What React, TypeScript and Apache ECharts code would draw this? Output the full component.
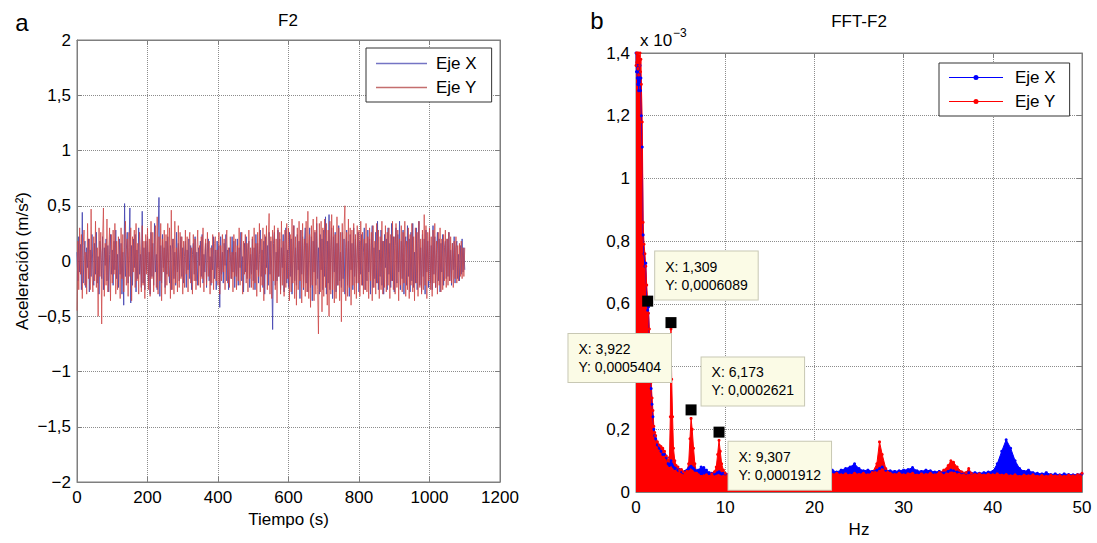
import React, { useEffect, useRef } from 'react';
import * as echarts from 'echarts';

// ---------- Left panel (a): acceleration time series, one sample every 2.5 s ----------
const TIME_STEP_S = 2.5;
const ACC_X = [
  0.08, -0.18, 0.22, -0.10, 0.15, -0.26, 0.44, -0.20, 0.05, 0.18, -0.24, 0.12, -0.06, 0.20, -0.28, 0.10, -0.14, 0.24, -0.08, -0.22,
  0.16, -0.12, 0.26, -0.20, 0.04, -0.30, 0.18, 0.08, -0.16, 0.22, -0.26, 0.12, -0.04, 0.20, -0.18, 0.14, -0.28, 0.06, 0.24, -0.12,
  0.10, -0.22, 0.18, -0.08, 0.28, -0.16, 0.06, -0.24, 0.20, -0.12, 0.16, -0.30, 0.08, -0.40, 0.52, -0.14, 0.10, 0.26, -0.20, 0.12,
  0.48, -0.38, 0.14, -0.22, 0.20, -0.06, 0.24, -0.28, 0.10, -0.16, 0.30, -0.12, 0.06, -0.24, 0.45, -0.20, 0.12, -0.26, 0.18, -0.08,
  0.22, -0.18, 0.08, -0.30, 0.26, -0.14, 0.16, -0.22, 0.34, -0.10, 0.06, -0.26, 0.20, 0.575, -0.32, 0.14, -0.20, 0.24, -0.06, 0.12,
  -0.24, 0.18, -0.12, 0.22, -0.04, -0.20, 0.14, -0.26, 0.10, 0.20, -0.16, 0.08, -0.22, 0.26, -0.10, 0.16, -0.18, 0.06, 0.22, -0.14,
  0.12, -0.20, 0.04, 0.18, -0.24, 0.10, -0.08, 0.20, -0.16, 0.14, -0.26, 0.06, 0.16, -0.12, 0.22, -0.18, 0.08, -0.22, 0.12, -0.04,
  0.18, -0.14, 0.24, -0.20, 0.06, -0.10, 0.16, -0.24, 0.12, 0.20, -0.18, 0.04, -0.22, 0.14, -0.08, 0.22, -0.16, 0.10, -0.26, 0.18,
  -0.06, 0.14, -0.42, 0.22, -0.12, 0.08, -0.20, 0.16, -0.04, 0.24, -0.18, 0.10, -0.26, 0.12, 0.06, -0.16, 0.22, -0.10, 0.18, -0.24,
  0.08, -0.14, 0.20, -0.22, 0.12, -0.06, 0.26, -0.18, 0.04, -0.28, 0.16, -0.10, 0.22, -0.16, 0.10, 0.18, -0.24, 0.06, -0.12, 0.20,
  -0.18, 0.12, -0.26, 0.24, -0.08, 0.16, -0.20, 0.06, 0.28, -0.14, 0.10, -0.24, 0.18, -0.30, 0.22, -0.06, 0.14, -0.22, 0.26, -0.12,
  0.18, -0.10, -0.62, 0.16, 0.26, -0.22, 0.08, -0.18, 0.28, -0.14, 0.20, -0.26, 0.12, -0.06, 0.24, -0.28, 0.16, 0.30, -0.20, 0.10,
  -0.24, 0.26, -0.14, 0.20, -0.30, 0.08, 0.32, -0.18, 0.12, -0.22, 0.24, -0.08, 0.18, -0.34, 0.28, -0.12, 0.22, -0.26, 0.14, 0.30,
  -0.20, 0.16, -0.28, 0.10, 0.30, -0.24, 0.22, -0.36, 0.18, -0.10, 0.26, -0.22, 0.34, -0.16, 0.12, -0.30, 0.24, -0.08, 0.20, -0.26,
  0.28, -0.14, 0.40, -0.30, 0.18, -0.20, 0.42, -0.26, 0.12, 0.30, -0.34, 0.22, -0.10, 0.26, -0.28, 0.16, -0.22, 0.32, -0.18, 0.08,
  -0.24, 0.26, -0.16, 0.20, -0.30, 0.12, 0.28, -0.22, 0.18, -0.32, 0.24, -0.08, 0.16, -0.26, 0.30, -0.14, 0.20, -0.20, 0.10, 0.26,
  -0.28, 0.18, -0.12, 0.24, -0.22, 0.08, 0.30, -0.26, 0.16, -0.18, 0.28, -0.10, 0.20, -0.30, 0.14, 0.32, -0.24, 0.12, -0.16, 0.26,
  -0.20, 0.36, -0.26, 0.10, -0.14, 0.28, -0.22, 0.18, -0.30, 0.24, -0.06, 0.20, -0.26, 0.30, -0.12, 0.16, -0.24, 0.34, -0.18, 0.22,
  -0.28, 0.14, 0.30, -0.20, 0.24, -0.10, 0.36, -0.26, 0.18, -0.16, 0.28, -0.30, 0.12, 0.22, -0.22, 0.32, -0.14, 0.20, -0.28, 0.26,
  -0.18, 0.34, -0.24, 0.08, -0.20, 0.30, -0.26, 0.16, 0.36, -0.22, 0.12, -0.28, 0.24, -0.14, 0.20, -0.30, 0.28, -0.10, 0.18, -0.24,
  0.30, -0.20, 0.14, -0.26, 0.32, -0.12, 0.22, -0.24, 0.08, 0.26, -0.18, 0.20, -0.28, 0.16, -0.10, 0.24, -0.22, 0.12, 0.18, -0.16,
  0.20, -0.14, 0.26, -0.18, 0.10, -0.22, 0.16, -0.08, 0.22, -0.20, 0.12, 0.18, -0.16, 0.06, -0.18, 0.14, -0.12, 0.20, -0.10, 0.12,
  -0.08,
];
const ACC_Y = [
  -0.45, 0.18, -0.26, 0.30, -0.12, 0.24, -0.34, 0.14, 0.28, -0.22, 0.08, -0.30, 0.34, -0.16, 0.20, -0.26, 0.47, -0.10, -0.28, 0.22,
  -0.18, 0.36, -0.24, 0.12, -0.50, 0.30, -0.14, 0.26, -0.57, 0.20, 0.48, -0.32, 0.16, -0.22, 0.38, -0.28, 0.10, 0.30, -0.36, 0.24,
  -0.20, 0.28, -0.12, 0.34, -0.30, 0.18, -0.26, 0.22, 0.06, -0.34, 0.30, -0.16, 0.24, -0.28, 0.12, 0.36, -0.22, 0.20, -0.32, 0.26,
  -0.14, 0.30, -0.36, 0.22, -0.10, 0.28, -0.24, 0.34, -0.18, 0.16, -0.30, 0.26, 0.10, -0.28, 0.32, -0.22, 0.18, -0.34, 0.24, -0.12,
  0.30, -0.26, 0.20, -0.32, 0.36, -0.16, 0.26, -0.28, 0.14, 0.32, -0.24, 0.40, -0.30, 0.22, -0.18, 0.34, -0.36, 0.20, -0.10, 0.28,
  -0.30, 0.24, -0.22, 0.34, -0.14, 0.30, -0.34, 0.46, -0.26, 0.20, -0.30, 0.36, -0.20, 0.12, -0.28, 0.32, -0.24, 0.26, -0.16, 0.22,
  -0.30, 0.18, -0.24, 0.28, -0.12, 0.22, -0.28, 0.16, 0.26, -0.20, 0.12, -0.30, 0.24, -0.18, 0.20, -0.26, 0.08, 0.28, -0.22, 0.14,
  -0.24, 0.22, -0.16, 0.30, -0.28, 0.10, 0.20, -0.22, 0.26, -0.14, 0.18, -0.30, 0.12, -0.20, 0.24, -0.26, 0.16, 0.22, -0.18, 0.10,
  -0.22, 0.26, -0.30, 0.14, -0.18, 0.24, -0.10, 0.20, -0.26, 0.16, 0.28, -0.20, 0.12, -0.24, 0.22, -0.16, 0.08, -0.28, 0.24, -0.14,
  0.20, -0.26, 0.14, -0.18, 0.30, -0.22, 0.10, 0.26, -0.30, 0.18, -0.12, 0.24, -0.20, 0.16, -0.28, 0.28, -0.16, 0.12, -0.24, 0.22,
  -0.26, 0.30, -0.20, 0.16, -0.32, 0.26, -0.14, 0.34, -0.28, 0.20, -0.22, 0.30, -0.36, 0.24, -0.12, 0.32, -0.26, 0.18, 0.43, -0.30,
  0.22, -0.34, 0.28, -0.18, 0.32, -0.26, 0.20, -0.38, 0.30, -0.14, 0.26, -0.30, 0.36, -0.22, 0.18, -0.32, 0.28, -0.24, 0.34, -0.16,
  0.30, -0.36, 0.24, -0.28, 0.38, -0.20, 0.32, -0.34, 0.22, -0.40, 0.30, -0.26, 0.36, -0.18, 0.28, -0.38, 0.34, -0.24, 0.20, -0.32,
  0.36, -0.28, 0.45, -0.34, 0.24, -0.42, 0.32, -0.22, 0.38, -0.36, 0.28, -0.30, 0.40, -0.26, -0.66, 0.34, -0.28, 0.36, -0.46, 0.30,
  -0.32, 0.38, -0.24, 0.34, -0.40, 0.28, -0.50, 0.36, -0.30, 0.42, -0.26, 0.32, -0.38, 0.24, -0.34, 0.40, -0.22, 0.30, -0.36, 0.26,
  -0.55, 0.34, -0.28, 0.30, 0.50, -0.36, 0.26, -0.32, 0.38, -0.24, 0.30, -0.40, 0.28, -0.22, 0.34, -0.30, 0.24, -0.34, 0.32, -0.20,
  0.28, -0.32, 0.36, -0.22, 0.26, -0.30, 0.20, -0.26, 0.34, -0.28, 0.22, -0.34, 0.30, -0.18, 0.26, -0.36, 0.32, -0.24, 0.18, -0.30,
  0.34, -0.20, 0.28, -0.34, 0.22, -0.26, 0.36, -0.30, 0.18, -0.24, 0.32, -0.28, 0.26, -0.22, 0.30, -0.34, 0.24, -0.18, 0.36, -0.26,
  0.22, -0.30, 0.34, -0.24, 0.28, -0.36, 0.20, -0.22, 0.32, -0.28, 0.26, -0.20, 0.36, -0.32, 0.18, -0.26, 0.30, -0.34, 0.24, -0.22,
  0.34, -0.28, 0.22, -0.36, 0.30, -0.20, 0.26, -0.32, 0.36, -0.24, 0.20, -0.30, 0.28, -0.26, 0.42, -0.22, 0.32, -0.34, 0.26, -0.18,
  0.30, -0.26, 0.22, -0.32, 0.28, -0.20, 0.34, -0.24, 0.18, -0.30, 0.26, -0.22, 0.30, -0.28, 0.20, -0.26, 0.24, -0.18, 0.28, -0.24,
  0.20, -0.22, 0.26, -0.18, 0.22, -0.20, 0.16, -0.24, 0.18, -0.16, 0.22, -0.20, 0.14, -0.18, 0.16, -0.14, 0.18, -0.16, 0.12, -0.14,
  0.12,
];

// ---------- Right panel (b): FFT amplitude (units of 1e-3) ----------
const FREQ_HZ = [
  0, 0.05, 0.1, 0.15, 0.2, 0.25, 0.3, 0.35, 0.4, 0.45,
  0.5, 0.55, 0.6, 0.7, 0.8, 0.9, 1.0, 1.1, 1.2, 1.309,
  1.4, 1.5, 1.6, 1.7, 1.8, 1.9, 2.0, 2.1, 2.2, 2.4,
  2.6, 2.8, 3.0, 3.2, 3.4, 3.6, 3.75, 3.85, 3.922, 4.0,
  4.1, 4.2, 4.35, 4.5, 4.7, 4.9, 5.1, 5.3, 5.5, 5.7,
  5.9, 6.05, 6.173, 6.3, 6.45, 6.6, 6.8, 7.0, 7.3, 7.6,
  7.9, 8.2, 8.5, 8.8, 9.0, 9.15, 9.307, 9.45, 9.6, 9.8,
  10, 10.5, 11, 11.5, 12, 12.5, 13, 13.5, 14, 14.5,
  15, 15.5, 16, 16.5, 17, 17.5, 18, 18.5, 19, 19.5,
  20, 20.5, 21, 21.5, 22, 22.5, 23, 23.5, 24, 24.5,
  25, 25.5, 26, 26.5, 27, 27.3, 27.6, 28, 28.5, 29,
  29.5, 30, 30.5, 31, 31.5, 32, 32.5, 33, 33.5, 34,
  34.5, 35, 35.3, 35.6, 36, 36.5, 37, 37.3, 37.6, 38,
  38.5, 39, 39.5, 40, 40.5, 41, 41.5, 42, 42.5, 43,
  43.5, 44, 44.5, 45, 45.5, 46, 46.5, 47, 47.5, 48,
  48.5, 49, 49.5, 50,
];
const FFT_X = [
  1.40, 1.34, 1.36, 1.32, 1.30, 1.36, 1.28, 1.34, 1.30, 1.36,
  1.28, 1.32, 1.20, 1.10, 0.82, 0.76, 0.72, 0.73, 0.62, 0.58,
  0.59, 0.48, 0.40, 0.33, 0.28, 0.24, 0.20, 0.18, 0.17, 0.15,
  0.14, 0.13, 0.12, 0.12, 0.11, 0.09, 0.085, 0.09, 0.10, 0.09,
  0.085, 0.08, 0.075, 0.08, 0.07, 0.072, 0.065, 0.062, 0.066, 0.07,
  0.075, 0.08, 0.082, 0.078, 0.075, 0.07, 0.068, 0.07, 0.08, 0.078,
  0.07, 0.062, 0.06, 0.058, 0.06, 0.062, 0.065, 0.06, 0.058, 0.06,
  0.058, 0.06, 0.056, 0.06, 0.058, 0.062, 0.056, 0.06, 0.058, 0.06,
  0.058, 0.062, 0.06, 0.058, 0.062, 0.06, 0.064, 0.062, 0.066, 0.064,
  0.07, 0.068, 0.072, 0.066, 0.07, 0.064, 0.07, 0.075, 0.08, 0.09,
  0.075, 0.068, 0.07, 0.066, 0.07, 0.075, 0.08, 0.07, 0.068, 0.066,
  0.068, 0.07, 0.072, 0.078, 0.068, 0.066, 0.07, 0.068, 0.064, 0.066,
  0.062, 0.066, 0.07, 0.068, 0.064, 0.062, 0.06, 0.062, 0.06, 0.062,
  0.06, 0.062, 0.064, 0.066, 0.09, 0.13, 0.167, 0.14, 0.10, 0.075,
  0.066, 0.07, 0.062, 0.06, 0.058, 0.062, 0.056, 0.058, 0.055, 0.058,
  0.056, 0.055, 0.056, 0.058,
];
const FFT_Y = [
  1.36, 1.40, 1.37, 1.40, 1.35, 1.40, 1.33, 1.39, 1.36, 1.40,
  1.34, 1.38, 1.30, 1.18, 0.86, 0.79, 0.76, 0.72, 0.66, 0.6089,
  0.57, 0.52, 0.42, 0.35, 0.30, 0.26, 0.21, 0.19, 0.18, 0.16,
  0.15, 0.145, 0.14, 0.13, 0.115, 0.10, 0.11, 0.24, 0.52, 0.36,
  0.24, 0.14, 0.10, 0.085, 0.08, 0.07, 0.072, 0.065, 0.06, 0.066,
  0.09, 0.17, 0.235, 0.20, 0.14, 0.09, 0.06, 0.055, 0.05, 0.052,
  0.055, 0.05, 0.058, 0.065, 0.08, 0.12, 0.165, 0.13, 0.09, 0.07,
  0.06, 0.055, 0.062, 0.05, 0.056, 0.06, 0.052, 0.058, 0.05, 0.055,
  0.06, 0.052, 0.057, 0.05, 0.055, 0.06, 0.053, 0.058, 0.05, 0.056,
  0.06, 0.054, 0.058, 0.052, 0.056, 0.06, 0.055, 0.058, 0.054, 0.06,
  0.056, 0.06, 0.055, 0.062, 0.09, 0.16, 0.12, 0.075, 0.06, 0.056,
  0.06, 0.055, 0.058, 0.06, 0.054, 0.058, 0.056, 0.06, 0.055, 0.062,
  0.07, 0.085, 0.10, 0.095, 0.08, 0.065, 0.062, 0.075, 0.06, 0.056,
  0.058, 0.054, 0.057, 0.055, 0.058, 0.054, 0.056, 0.052, 0.055, 0.05,
  0.054, 0.052, 0.055, 0.05, 0.053, 0.05, 0.054, 0.051, 0.053, 0.05,
  0.054, 0.052, 0.055, 0.06,
];

// Data tips (frequency in Hz, amplitude in units of 1e-3)
const TIP_X = [1.309, 3.922, 6.173, 9.307];
const TIP_Y = [0.6089, 0.5404, 0.2621, 0.1912];

const SERIES_LABELS: Record<string, string> = {
  'acc-x': 'Eje X',
  'acc-y': 'Eje Y',
  'fft-x': 'Eje X',
  'fft-y': 'Eje Y',
};

const FONT = '"Liberation Sans", Arial, Helvetica, sans-serif';
const FRAME = '#7f7f7f';
const GRID_LINE = { show: true, lineStyle: { type: 'dotted' as const, color: '#8c8c8c', width: 1 } };
// line with a dot in the middle (legend icon of the FFT panel), 54 x 5 box
const LINE_DOT_ICON = 'path://M0,2 H54 V3 H0 Z M27,0 A2.5,2.5 0 1 1 27,5 A2.5,2.5 0 1 1 27,0 Z';

const comma = (s: string) => s.replace('.', ',').replace('-', '\u2212');

function buildOption() {
  const accX = ACC_X.map((v, i) => [i * TIME_STEP_S, v]);
  const accY = ACC_Y.map((v, i) => [i * TIME_STEP_S, v]);
  const fftX = FREQ_HZ.map((f, i) => [f, FFT_X[i]]);
  const fftY = FREQ_HZ.map((f, i) => [f, FFT_Y[i]]);

  // data-tip box placement relative to each marker
  const tipLayout: any[] = [
    { position: [13, -44], align: 'left', verticalAlign: 'top' },
    { position: [-97, 17], align: 'left', verticalAlign: 'top' },
    { position: [16, 1], align: 'left', verticalAlign: 'bottom' },
    { position: [15, 15], align: 'left', verticalAlign: 'top' },
  ];
  const tips = TIP_X.map((x, i) => ({ value: [x, TIP_Y[i]], label: tipLayout[i] }));

  const mainX = (grid: number, min: number, max: number, interval: number, name: string, gap: number) => ({
    type: 'value', gridIndex: grid, min, max, interval, position: 'bottom',
    axisLine: { show: true, onZero: false, lineStyle: { color: FRAME } },
    axisTick: { show: true, inside: true, length: 5, lineStyle: { color: FRAME } },
    axisLabel: { color: '#000', fontSize: 17, margin: 7, fontFamily: FONT, formatter: (v: number) => String(v) },
    splitLine: GRID_LINE,
    name, nameLocation: 'middle', nameGap: gap,
    nameTextStyle: { color: '#000', fontSize: 17, fontFamily: FONT },
  });
  const mirrorX = (grid: number, min: number, max: number, interval: number) => ({
    type: 'value', gridIndex: grid, min, max, interval, position: 'top',
    axisLine: { show: true, onZero: false, lineStyle: { color: FRAME } },
    axisTick: { show: true, inside: true, length: 5, lineStyle: { color: FRAME } },
    axisLabel: { show: false }, splitLine: { show: false },
  });
  const mainY = (grid: number, min: number, max: number, interval: number, fmt: (v: number) => string, extra: any = {}) => ({
    type: 'value', gridIndex: grid, min, max, interval, position: 'left',
    axisLine: { show: true, onZero: false, lineStyle: { color: FRAME } },
    axisTick: { show: true, inside: true, length: 5, lineStyle: { color: FRAME } },
    axisLabel: { color: '#000', fontSize: 17, margin: 6, fontFamily: FONT, formatter: fmt },
    splitLine: GRID_LINE,
    ...extra,
  });
  const mirrorY = (grid: number, min: number, max: number, interval: number) => ({
    type: 'value', gridIndex: grid, min, max, interval, position: 'right',
    axisLine: { show: true, onZero: false, lineStyle: { color: FRAME } },
    axisTick: { show: true, inside: true, length: 5, lineStyle: { color: FRAME } },
    axisLabel: { show: false }, splitLine: { show: false },
  });

  // the 0,4 tick label is covered by a data tip in the original figure
  const fftYLabel = (v: number) => {
    const r = +v.toFixed(1);
    if (r === 0.4) return '';
    return r === 0 ? '0' : comma(String(r));
  };

  return {
    animation: false,
    backgroundColor: '#fff',
    textStyle: { fontFamily: FONT },
    grid: [
      { left: 77, top: 40, width: 423, height: 442, show: true, borderColor: FRAME, borderWidth: 1, backgroundColor: '#fff' },
      { left: 636, top: 53, width: 446, height: 444, show: true, borderColor: FRAME, borderWidth: 1, backgroundColor: '#fff' },
    ],
    xAxis: [
      mainX(0, 0, 1200, 200, 'Tiempo (s)', 29),
      mirrorX(0, 0, 1200, 200),
      mainX(1, 0, 50, 10, 'Hz', 26),
      mirrorX(1, 0, 50, 10),
    ],
    yAxis: [
      mainY(0, -2, 2, 0.5, (v: number) => (v === 0 ? '0' : comma(String(v))), {
        name: 'Aceleración (m/s²)', nameLocation: 'middle', nameGap: 46,
        nameTextStyle: { color: '#000', fontSize: 17, fontFamily: FONT },
      }),
      mirrorY(0, -2, 2, 0.5),
      mainY(1, 0, 1.4, 0.2, fftYLabel, {}),
      mirrorY(1, 0, 1.4, 0.2),
    ],
    legend: [
      {
        data: ['acc-x', 'acc-y'], formatter: (n: string) => SERIES_LABELS[n],
        icon: 'rect',
        orient: 'vertical', left: 366, top: 48,
        itemWidth: 51, itemHeight: 1.5, itemGap: 7,
        padding: [7, 15, 6, 10],
        borderColor: '#333', borderWidth: 1, backgroundColor: '#fff',
        textStyle: { color: '#000', fontSize: 17, fontFamily: FONT, padding: [0, 0, 0, 4] },
      },
      {
        data: ['fft-x', 'fft-y'], formatter: (n: string) => SERIES_LABELS[n],
        icon: LINE_DOT_ICON,
        orient: 'vertical', left: 939, top: 63,
        itemWidth: 54, itemHeight: 5, itemGap: 7,
        padding: [6, 14, 6, 10],
        borderColor: '#333', borderWidth: 1, backgroundColor: '#fff',
        textStyle: { color: '#000', fontSize: 17, fontFamily: FONT, padding: [0, 0, 0, 7] },
      },
    ],
    graphic: [
      { type: 'text', x: 22, y: 22, style: { text: 'a', fill: '#000', font: `24px ${FONT}`, align: 'center', verticalAlign: 'middle' } },
      { type: 'text', x: 288, y: 20, style: { text: 'F2', fill: '#000', font: `17px ${FONT}`, align: 'center', verticalAlign: 'middle' } },
      { type: 'text', x: 597, y: 20, style: { text: 'b', fill: '#000', font: `24px ${FONT}`, align: 'center', verticalAlign: 'middle' } },
      { type: 'text', x: 859, y: 21, style: { text: 'FFT-F2', fill: '#000', font: `17px ${FONT}`, align: 'center', verticalAlign: 'middle' } },
      { type: 'text', x: 640, y: 40, style: { text: 'x 10', fill: '#000', font: `17px ${FONT}`, align: 'left', verticalAlign: 'middle' } },
      { type: 'text', x: 673, y: 33, style: { text: '\u22123', fill: '#000', font: `12px ${FONT}`, align: 'left', verticalAlign: 'middle' } },
    ],
    series: [
      {
        name: 'acc-x', type: 'line', xAxisIndex: 0, yAxisIndex: 0, data: accX,
        symbol: 'none', color: '#7474c4',
        lineStyle: { width: 1, color: '#4a4ab4', opacity: 0.9 },
      },
      {
        name: 'acc-y', type: 'line', xAxisIndex: 0, yAxisIndex: 0, data: accY,
        symbol: 'none', color: '#c46e6e',
        lineStyle: { width: 1, color: '#cc4444', opacity: 0.75 },
      },
      {
        name: 'fft-x', type: 'line', xAxisIndex: 2, yAxisIndex: 2, data: fftX,
        symbol: 'circle', symbolSize: 3, color: '#0000ff',
        itemStyle: { color: '#0000ff' },
        lineStyle: { width: 1, color: '#0000ff' },
        areaStyle: { color: '#0000ff', opacity: 1 },
      },
      {
        name: 'fft-y', type: 'line', xAxisIndex: 2, yAxisIndex: 2, data: fftY,
        symbol: 'circle', symbolSize: 3, color: '#ff0000',
        itemStyle: { color: '#ff0000' },
        lineStyle: { width: 1, color: '#ff0000' },
        areaStyle: { color: '#ff0000', opacity: 1 },
      },
      {
        name: 'tips', type: 'scatter', xAxisIndex: 2, yAxisIndex: 2, z: 10,
        symbol: 'rect', symbolSize: 11,
        itemStyle: { color: '#000', borderWidth: 0, opacity: 1 },
        data: tips,
        label: {
          show: true,
          formatter: (p: any) =>
            `X: ${comma(p.value[0].toFixed(3))}\nY: ${comma((p.value[1] * 1e-3).toFixed(7))}`,
          color: '#000', fontSize: 14, lineHeight: 18, fontFamily: FONT,
          backgroundColor: '#fbfbe6', borderColor: '#c8c8b4', borderWidth: 1,
          padding: [6, 10, 6, 10],
        },
      },
    ],
  };
}

export default function App() {
  const ref = useRef<HTMLDivElement>(null);
  useEffect(() => {
    document.body.style.margin = '0';
    const chart = echarts.init(ref.current!, null, { renderer: 'svg' });
    chart.setOption(buildOption() as any);
    return () => chart.dispose();
  }, []);
  return <div ref={ref} style={{ width: 1097, height: 543 }} />;
}
